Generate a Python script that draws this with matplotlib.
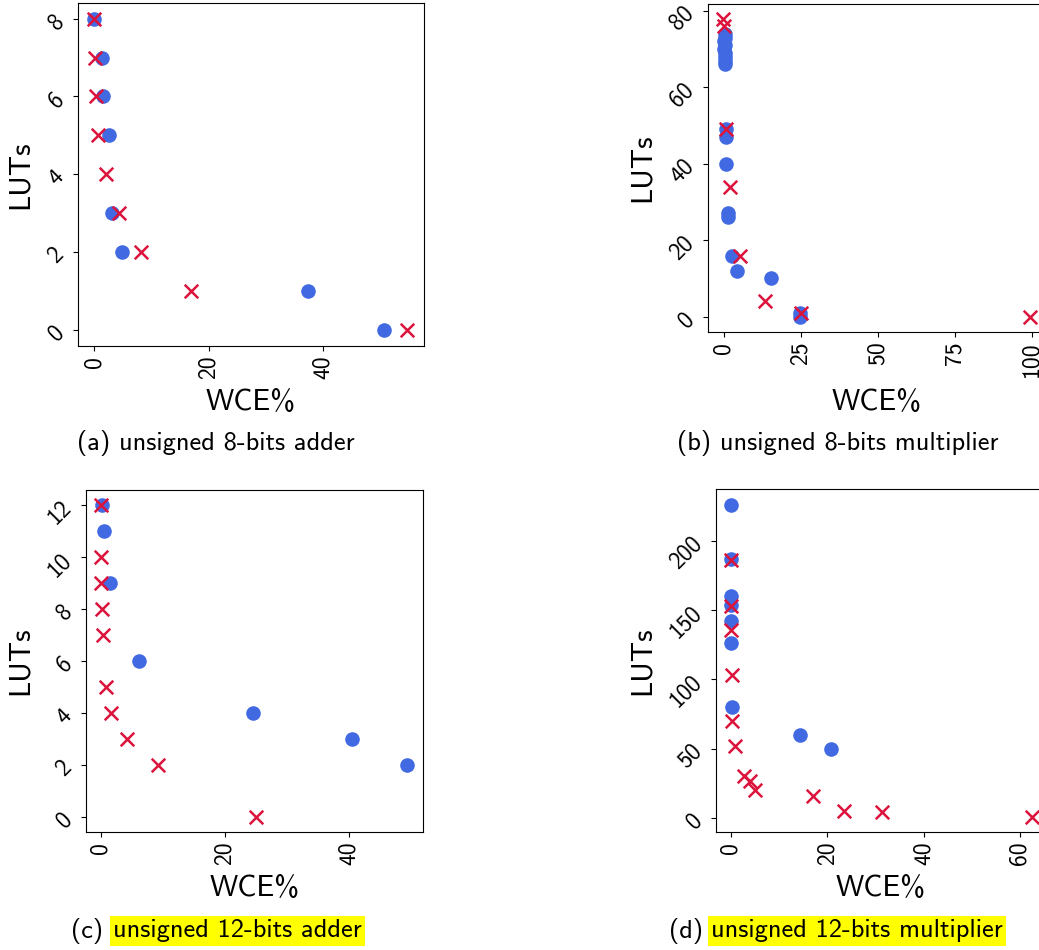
import matplotlib
matplotlib.use("Agg")
import matplotlib.pyplot as plt

plt.rcParams['font.family'] = ['cmss10', 'DejaVu Sans']
plt.rcParams['axes.unicode_minus'] = False
plt.rcParams['mathtext.fontset'] = 'cm'

# (a) unsigned 8-bits adder
a_blue_wce = [0, 1.4, 1.6, 2.6, 3.1, 4.9, 37.3, 50.7]
a_blue_luts = [8, 7, 6, 5, 3, 2, 1, 0]
a_red_wce = [0, 0.2, 0.35, 0.75, 2.1, 4.3, 8.2, 17.0, 54.7]
a_red_luts = [8, 7, 6, 5, 4, 3, 2, 1, 0]

# (b) unsigned 8-bits multiplier
b_blue_wce = [0.3, 0.3, 0.2, 0.3, 0.2, 0.3, 0.4, 0.3, 0.4, 0.7, 0.6, 0.9, 1.4, 1.4, 2.8, 4.4, 15.3, 24.7, 24.9]
b_blue_luts = [74, 73, 72, 71, 70, 69, 68, 67, 66, 49, 47, 40, 27, 26, 16, 12, 10, 1, 0]
b_red_wce = [-0.3, 0.1, 0.7, 2.0, 5.2, 13.4, 25.0, 99.4]
b_red_luts = [78, 76, 49, 34, 16, 4, 1, 0]

# (c) unsigned 12-bits adder
c_blue_wce = [0.2, 0.5, 1.45, 6.2, 24.6, 40.4, 49.4]
c_blue_luts = [12, 11, 9, 6, 4, 3, 2]
c_red_wce = [0, 0.1, 0.1, 0.2, 0.4, 0.85, 1.6, 4.3, 9.2, 25.0]
c_red_luts = [12, 10, 9, 8, 7, 5, 4, 3, 2, 0]

# (d) unsigned 12-bits multiplier
d_blue_wce = [0.07, 0.07, 0.07, 0.07, 0.07, 0.07, 0.35, 14.4, 20.9]
d_blue_luts = [226, 187, 160, 154, 142, 126, 80, 60, 50]
d_red_wce = [0.1, 0.1, 0.1, 0.2, 0.3, 0.8, 2.8, 3.9, 5.1, 17.1, 23.5, 31.3, 62.4]
d_red_luts = [186, 153, 136, 103, 70, 52, 30, 27, 20, 16, 5, 4, 1]

captions = ["(a)", "(b)", "(c)", "(d)"]
titles = ["unsigned 8-bits adder", "unsigned 8-bits multiplier",
          "unsigned 12-bits adder", "unsigned 12-bits multiplier"]
highlight = [False, False, True, True]

W, H = 1039, 950
fig = plt.figure(figsize=(W / 100, H / 100), dpi=100)


def rect(left, top, right, bottom):
    return [left / W, 1 - bottom / H, (right - left) / W, (bottom - top) / H]


panels = [
    (rect(78, 3, 424, 346), a_blue_wce, a_blue_luts, a_red_wce, a_red_luts, [0, 20, 40], [0, 2, 4, 6, 8]),
    (rect(708, 4, 1046, 332), b_blue_wce, b_blue_luts, b_red_wce, b_red_luts, [0, 25, 50, 75, 100], [0, 20, 40, 60, 80]),
    (rect(86, 490, 423, 832), c_blue_wce, c_blue_luts, c_red_wce, c_red_luts, [0, 20, 40], [0, 2, 4, 6, 8, 10, 12]),
    (rect(716, 489, 1045, 832), d_blue_wce, d_blue_luts, d_red_wce, d_red_luts, [0, 20, 40, 60], [0, 50, 100, 150, 200]),
]

# label / caption positions in pixels
ylabel_x = [20, 642, 20, 642]
xlabel_y = [402, 402, 888, 888]
caption_pos = [(216, 443), (838, 443), (71, 931), (669, 931)]

axes = []
for i, (r, bx, by, rx, ry, xt, yt) in enumerate(panels):
    ax = fig.add_axes(r)
    ax.scatter(bx, by, s=110, color='royalblue', marker='o', linewidths=0, zorder=2)
    ax.scatter(rx, ry, s=95, color='crimson', marker='x', linewidths=1.8, zorder=3)
    ax.set_xticks(xt)
    ax.set_yticks(yt)
    ax.tick_params(axis='x', labelrotation=90, labelsize=17)
    ax.tick_params(axis='y', labelrotation=45, labelsize=17)
    ax.set_xlabel("WCE%", fontsize=21.5)
    ax.set_ylabel("LUTs", fontsize=21.5)
    # place labels
    bb = ax.get_position()
    ax_left, ax_bot = bb.x0 * W, (1 - bb.y0) * H
    ax_w, ax_h = bb.width * W, bb.height * H
    ax.yaxis.set_label_coords((ylabel_x[i] - ax_left) / ax_w, 0.5)
    ax.xaxis.set_label_coords(0.5, (ax_bot - xlabel_y[i]) / ax_h)
    ax.xaxis.label.set_va('center')
    ax.yaxis.label.set_va('center')
    axes.append(ax)

axes[0].set_xlim(-2.8, 57.6)
axes[0].set_ylim(-0.41, 8.4)
axes[1].set_xlim(-5.1, 104.7)
axes[1].set_ylim(-4.0, 81.8)
axes[2].set_xlim(-2.37, 51.9)
axes[2].set_ylim(-0.58, 12.58)
axes[3].set_xlim(-3.06, 65.2)
axes[3].set_ylim(-10.1, 237.4)

# x-label centre for panel b (axes run past the right edge)
axes[1].xaxis.set_label_coords((877 - 708) / (1046 - 708), axes[1].xaxis.label.get_position()[1])

for i in range(4):
    cx, cy = caption_pos[i]
    if not highlight[i]:
        fig.text(cx / W, 1 - cy / H, captions[i] + " " + titles[i], ha='center', va='center', fontsize=19)
    else:
        fig.text(cx / W, 1 - cy / H, captions[i], ha='left', va='center', fontsize=19)
        fig.text((cx + 42) / W, 1 - cy / H, titles[i], ha='left', va='center', fontsize=19,
                 bbox=dict(facecolor='#ffff00', edgecolor='none', pad=2.5))

fig.savefig("out.png", dpi=100)
